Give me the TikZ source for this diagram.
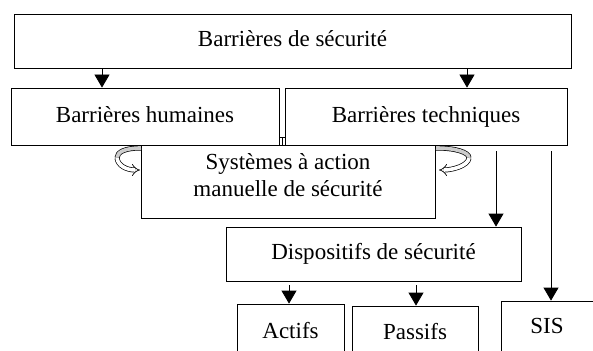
\documentclass[tikz,border=0pt]{standalone}
\usepackage{fontspec}
\setmainfont{Liberation Serif}
\usetikzlibrary{arrows.meta, calc}

\begin{document}
\begin{tikzpicture}[x=1pt, y=-1pt,
        boite/.style={draw, line width=0.8pt, inner sep=0pt, font=\fontsize{23}{27}\selectfont, text height=16pt, text depth=5pt},
        fleche/.style={line width=0.8pt, -{Triangle[length=13pt, width=15pt]}},
        tour/.style={line width=0.7pt, double distance=3.6pt}]
        \clip (0, 0) rectangle (593, 350);

        \node[boite, minimum width=557pt, minimum height=54pt] (top) at (292.5, 41) {Barrières de sécurité};
        \node[boite, minimum width=268pt, minimum height=57pt] (hum) at (145, 116.5) {Barrières humaines};
        \node[boite, minimum width=282pt, minimum height=57pt] (tech) at (426, 116.5) {Barrières techniques};
        \node[boite, minimum width=294pt, minimum height=73pt, align=center, text height=43pt, text depth=14pt] (sys) at (288, 181.5) {Systèmes à action\\manuelle de sécurité};
        \node[boite, minimum width=295pt, minimum height=54pt] (disp) at (373.5, 254) {Dispositifs de sécurité};
        \node[boite, minimum width=107pt, minimum height=57pt] (act) at (290.5, 332.5) {Actifs};
        \node[boite, minimum width=126pt, minimum height=55pt] (pass) at (415, 333.5) {Passifs};
        \node[boite, minimum width=92pt, minimum height=53pt] (sis) at (547, 327.5) {SIS};

        \coordinate (c1) at (102, 0);
        \coordinate (c2) at (467, 0);
        \coordinate (c3) at (496, 0);
        \coordinate (c4) at (551, 0);
        \coordinate (c5) at (289, 0);
        \coordinate (c6) at (416, 0);
        \draw[fleche] (c1 |- top.south) -- (c1 |- hum.north);
        \draw[fleche] (c2 |- top.south) -- (c2 |- tech.north);
        \draw[fleche] ($(c3 |- tech.south) + (0, 6)$) -- (c3 |- disp.north);
        \draw[fleche] ($(c4 |- tech.south) + (0, 6)$) -- (c4 |- sis.north);
        \draw[fleche] ($(c5 |- disp.south) + (0, 4)$) -- (c5 |- act.north);
        \draw[fleche] ($(c6 |- disp.south) + (0, 4)$) -- (c6 |- pass.north);

        \draw[line width=0.8pt] ($(hum.south east) + (0, -8)$) -- ($(tech.south west) + (0, -8)$);
        \draw[line width=0.8pt] (282, 137) -- (282, 145);

        \draw[tour, double=gray!40] (141, 148) .. controls (125, 148) and (117, 152) .. (117, 158);
        \draw[tour, double=white, -Implies] (117, 158) .. controls (118, 166) and (127, 170) .. (140, 170);
        \draw[tour, double=gray!40] (436, 148) .. controls (455, 148) and (469, 152) .. (469, 158);
        \draw[tour, double=white, -Implies] (469, 158) .. controls (468, 166) and (452, 170) .. (439, 170);
\end{tikzpicture}
\end{document}
